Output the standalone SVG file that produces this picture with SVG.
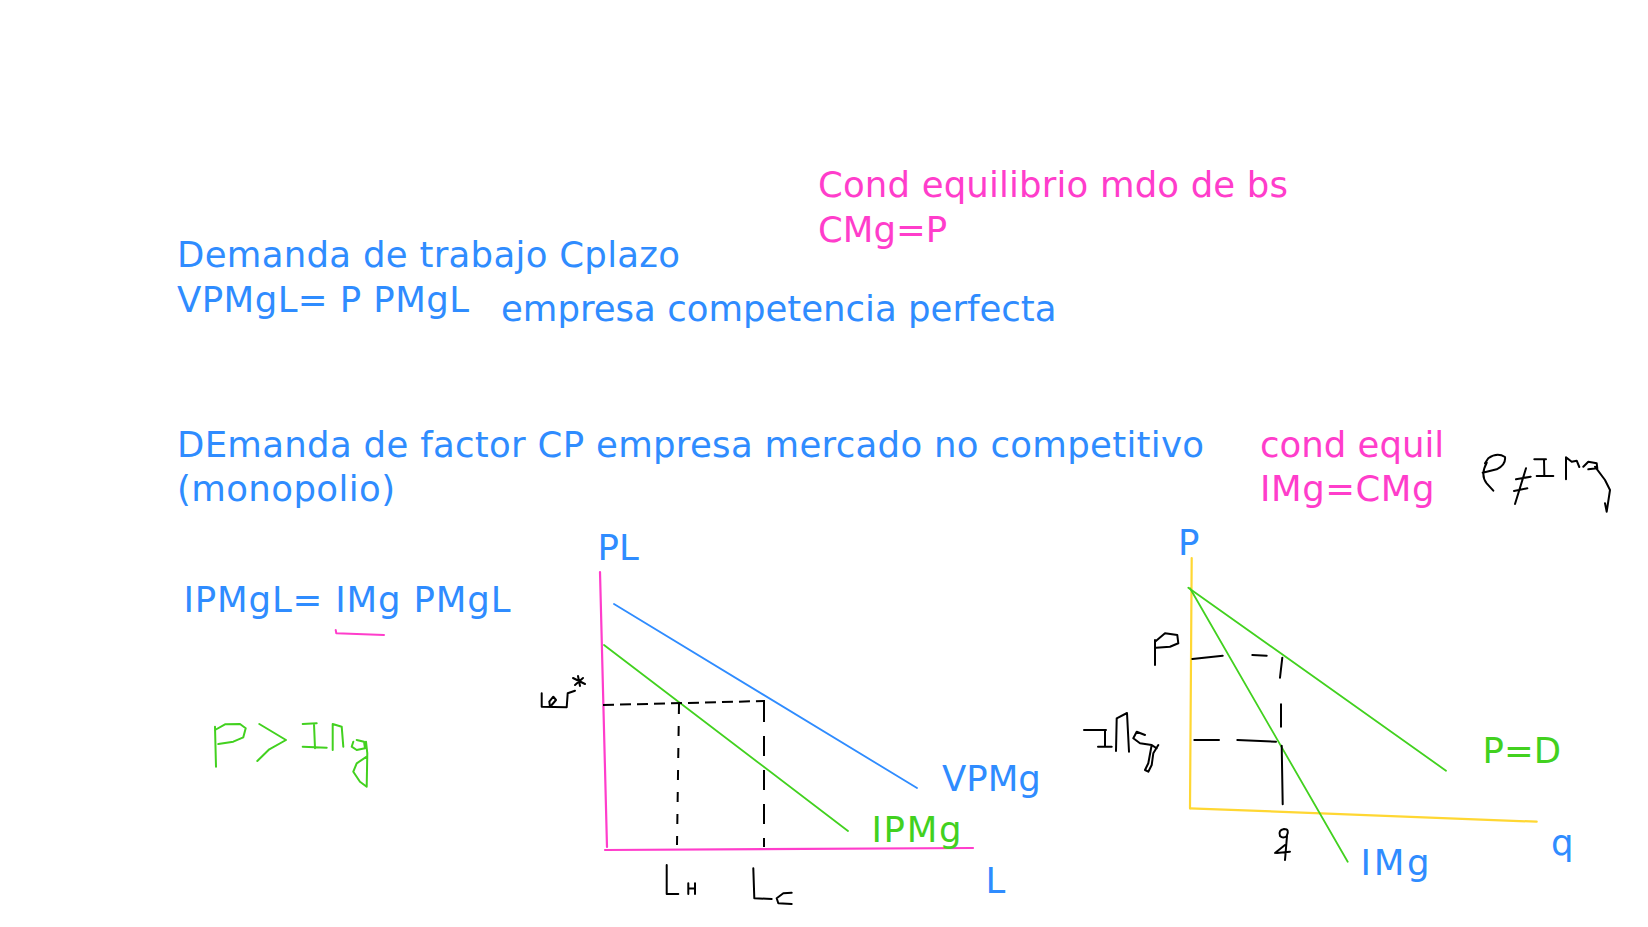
<svg xmlns="http://www.w3.org/2000/svg" width="1648" height="927" viewBox="0 0 1648 927">
<style>
  text { font-family: "DejaVu Sans", Verdana, sans-serif; font-size: 35.5px; }
  .blue { fill: #2f8cff; }
  .pink { fill: #ff3dcb; }
  .green { fill: #42d11f; }
  .ln { fill: none; stroke-linecap: round; stroke-linejoin: round; }
  .ink { fill: none; stroke: #000; stroke-width: 2; stroke-linecap: round; stroke-linejoin: round; }
  .gink { fill: none; stroke: #42d11f; stroke-width: 2; stroke-linecap: round; stroke-linejoin: round; }
</style>
<rect width="1648" height="927" fill="#fff"/>

<g id="notes-top">
  <text class="pink" x="818" y="197" textLength="470" lengthAdjust="spacing">Cond equilibrio mdo de bs</text>
  <text class="pink" x="818" y="242">CMg=P</text>
  <text class="blue" x="177" y="267" textLength="503" lengthAdjust="spacing">Demanda de trabajo Cplazo</text>
  <text class="blue" x="177" y="312" textLength="292" lengthAdjust="spacing">VPMgL= P PMgL</text>
  <text class="blue" x="501" y="321">empresa competencia perfecta</text>
</g>

<g id="notes-mid">
  <text class="blue" x="177" y="457" textLength="1027" lengthAdjust="spacing">DEmanda de factor CP empresa mercado no competitivo</text>
  <text class="blue" x="177" y="501" textLength="218" lengthAdjust="spacing">(monopolio)</text>
  <text class="pink" x="1260" y="457">cond equil</text>
  <text class="pink" x="1260" y="501" textLength="174.5" lengthAdjust="spacing">IMg=CMg</text>
  <path class="ink" d="M1486.7 462.7 Q1480 475 1486.7 483.3 L1493.3 490.7 M1482.7 472.7 L1496.7 469.3 Q1506 465 1505 457 Q1497 452 1488.3 458.3 L1485 463.3 M1516 479.3 L1530.7 476.7 M1514 491 L1527.3 488.3 M1526 468.3 L1515 504 M1534.3 459.3 L1546 459.3 M1544 459.3 L1544.3 475 M1536.7 476 L1553.3 476 M1566 479.3 L1566 457.3 L1571.7 461.7 L1576.7 460.7 L1579.3 467 M1583.3 466.7 L1588.3 461.7 L1596.7 463.3 L1597.3 468.3 L1588.3 469.3 M1595 466.7 L1605 480 L1610 490 L1606.7 511.7 L1605 503.3"/>
</g>

<g id="formula-monopoly">
  <text class="blue" x="183.5" y="612" textLength="327" lengthAdjust="spacing">IPMgL= IMg PMgL</text>
  <path class="ln" stroke="#ff3dcb" stroke-width="2" d="M335.7 630 L336.3 633.3 L384 635"/>
  <path class="gink" d="M215 726.7 L216 766.7 M215 730 L225 724.3 L240 724 L245.7 728.3 L243.3 737.3 L233.3 741.7 L218.3 744 M259.3 724 L286 740 L269.3 749.3 L257.3 761 M302.7 724 L316.7 723.3 M314 724 L315 748.3 M302.7 746.7 L326.7 747.7 M332.7 750 L332.7 724 L341.7 726.7 L343.3 746.7 M353.3 741.7 L351.7 746.7 L356.7 750 L365 748.3 L364 741.7 L356.7 740 M366 741.7 L367.3 753.3 L366.7 786.7 L360 781.7 L353.3 771.7 L356.7 763.3 L366.7 756.7"/>
</g>

<g id="chart-labor">
  <text class="blue" x="597.5" y="560">PL</text>
  <line class="ln" stroke="#ff3dcb" stroke-width="2.2" x1="600" y1="572" x2="607" y2="847"/>
  <line class="ln" stroke="#ff3dcb" stroke-width="2.2" x1="605" y1="850" x2="973" y2="848"/>
  <line class="ln" stroke="#2f8cff" stroke-width="1.8" x1="614" y1="604" x2="917" y2="788"/>
  <line class="ln" stroke="#42d11f" stroke-width="1.8" x1="604" y1="645" x2="848" y2="831"/>
  <path fill="none" stroke="#000" stroke-width="2" stroke-dasharray="11 6" d="M603 705 L765 701"/>
  <path fill="none" stroke="#000" stroke-width="2" stroke-dasharray="10 12" d="M679 704 L677 845"/>
  <path fill="none" stroke="#000" stroke-width="2" stroke-dasharray="20 14" d="M764 702 L764 847"/>
  <path class="ink" d="M541.7 693.3 L541.7 706.7 L566.7 707.3 M550 706.7 L549.3 701.7 L553.3 696.7 L556 700 L551.7 705 M566.7 707.3 L567.7 693.3 L575 690.7 M573 678 L585 684 M578 676 L580 686 M575 685 L583 678"/>
  <path class="ink" d="M666.7 865 L666.7 894 L678.3 894 M688.3 883.3 L688.3 894 M695 883.3 L695 894 M688.3 888.5 L695 888.5 M753.3 868.3 L754.3 898.3 L771.7 899 M791.7 892.7 L783.3 893.3 L776.7 898.3 L778.3 903.3 L791.7 904"/>
  <text class="blue" x="942" y="791">VPMg</text>
  <text class="green" x="871.5" y="842" textLength="90" lengthAdjust="spacing">IPMg</text>
  <text class="blue" x="985.5" y="893">L</text>
</g>

<g id="chart-monopoly">
  <text class="blue" x="1178" y="555">P</text>
  <line class="ln" stroke="#ffd733" stroke-width="2.2" x1="1191.7" y1="558" x2="1190" y2="808.3"/>
  <line class="ln" stroke="#ffd733" stroke-width="2.2" x1="1190" y1="808.3" x2="1536.7" y2="821.7"/>
  <line class="ln" stroke="#42d11f" stroke-width="1.8" x1="1188.3" y1="587.7" x2="1446" y2="770.7"/>
  <line class="ln" stroke="#42d11f" stroke-width="1.8" x1="1190" y1="588.3" x2="1347.7" y2="861.7"/>
  <path class="ink" d="M1192.3 659 L1222.7 655.7 M1252.3 655 L1266.7 655.7 M1282.3 657.7 L1280 677.7 M1281 704.3 L1281 726.7 M1194.3 740 L1219 740 M1237.3 740 L1276 741.7 M1281.7 745.7 L1282.7 804.3"/>
  <path class="ink" d="M1155 640 L1155 665 M1155 641.7 L1165 633.3 L1177.3 635 L1178.3 643.3 L1170 646.7 L1156 647.7"/>
  <path class="ink" d="M1084 730 L1106 730 M1105 730 L1105 746.7 M1098 746.7 L1111.7 746.7 M1116 751 L1116.7 718.3 L1127 713 L1129 751.7 M1145 735 L1136.7 731.7 L1133.3 738.3 L1140 743.3 L1151.7 745 L1156.7 748.3 M1151.7 745 L1148.3 763.3 L1145 770 L1148.3 771.7 L1151.7 765 L1153.3 753.3 L1158.3 745"/>
  <path class="ink" d="M1286.7 836 Q1290 829 1284 829 Q1278 830 1280 836 Q1283 839 1287 836 L1285 860 M1276.7 853 L1290 851.7 M1275 853 L1285 845"/>
  <text class="green" x="1482.5" y="763">P=D</text>
  <text class="blue" x="1551" y="855">q</text>
  <text class="blue" x="1360.5" y="875" textLength="69" lengthAdjust="spacing">IMg</text>
</g>
</svg>
